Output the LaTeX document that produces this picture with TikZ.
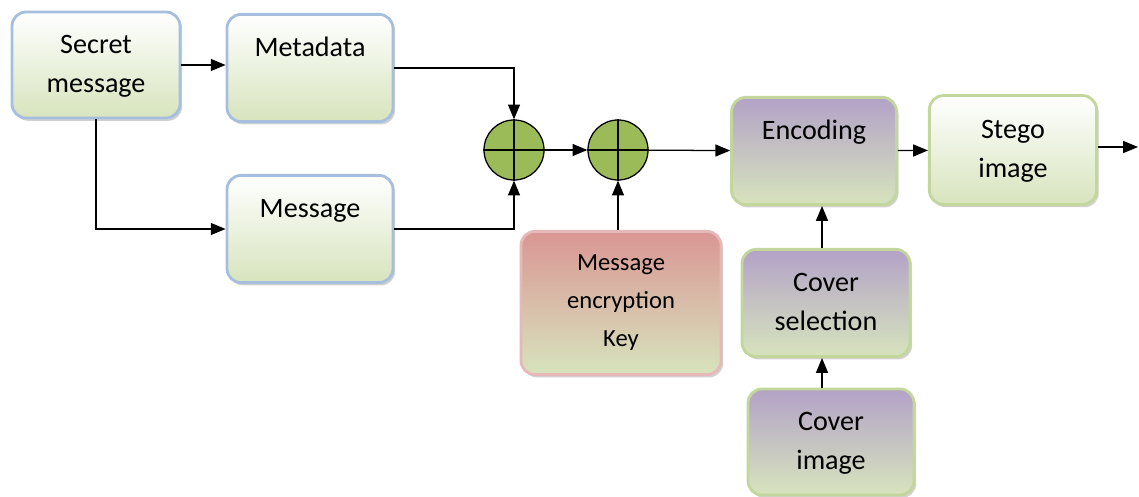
\documentclass[tikz,border=0pt]{standalone}
\usepackage{fontspec}
\setmainfont{Carlito}
\usetikzlibrary{arrows.meta,shadows}

\begin{document}
\begin{tikzpicture}[x=0.025cm, y=-0.025cm, >={Triangle[length=10.5pt,width=8.5pt]},
  line width=0.9pt,
  every node/.style={font=\fontsize{20}{28}\selectfont, align=center}]
  \definecolor{lgreen}{HTML}{D7E4BD}
  \definecolor{lblue}{HTML}{A7BFDE}
  \definecolor{gborder}{HTML}{C3D69B}
  \definecolor{lpurple}{HTML}{B3A2C7}
  \definecolor{lred}{HTML}{D99694}
  \definecolor{pborder}{HTML}{E6B9B8}
  \definecolor{xorgreen}{HTML}{9BBB59}
  \tikzset{
    box/.style={rounded corners=10pt, line width=2pt, minimum width=4.15cm,
      minimum height=2.68cm, bottom color=lgreen,
      drop shadow={shadow xshift=1.5pt, shadow yshift=-2pt, opacity=0.3, fill=black!60}},
    inbox/.style={box, draw=lblue, top color=white},
    outbox/.style={box, draw=gborder, top color=white},
    stepbox/.style={box, draw=gborder, top color=lpurple},
    xorsum/.style={circle, draw, fill=xorgreen, minimum size=1.5cm, inner sep=0pt}
  }
  \useasboundingbox (0,0) rectangle (1139,497);

  % Message side
  \node[inbox, minimum width=4.2cm, minimum height=2.65cm] (secret) at (96,65)
    {\strut Secret\\\strut message};
  \node[inbox] (meta) at (310,68) {\strut Metadata\\\strut};
  \node[inbox] (msg) at (310,229) {\strut Message\\\strut};

  % Combining
  \foreach \n/\x in {sum1/514, sum2/618} {
    \node[xorsum] (\n) at (\x,150) {};
    \draw (\n.north) -- (\n.south) (\n.west) -- (\n.east);
  }
  \node[box, draw=pborder, top color=lred, minimum width=5cm, minimum height=3.58cm,
    font=\fontsize{17.5}{27}\selectfont] (key) at (621,303) {Message\\encryption\\Key};

  % Cover side
  \node[stepbox, minimum width=4.12cm] (enc) at (814,151) {\strut Encoding\\\strut};
  \node[outbox, minimum width=4.18cm, minimum height=2.72cm] (stego) at (1013,150)
    {\strut Stego\\\strut image};
  \node[stepbox, minimum width=4.2cm] (coversel) at (826,303) {\strut Cover\\\strut selection};
  \node[stepbox, minimum height=2.65cm] (coverimg) at (831,442) {\strut Cover\\\strut image};
  \coordinate (out) at (1138,147);

  % Connectors
  \draw[->] (secret.east) -- (meta.west |- secret.east);
  \draw[->] (secret.south) |- (msg.west);
  \draw[->] (meta.east) -| (sum1.north);
  \draw[->] (msg.east) -| (sum1.south);
  \draw[->] (sum1) -- (sum2);
  \draw[->] (sum2) -- (enc);
  \draw[->] (sum2.south |- key.north) -- (sum2.south);
  \draw[->] (enc) -- (stego);
  \draw[->] (stego.east |- out) -- (out);
  \draw[->] (coversel.north -| 822,0) -- (enc.south -| 822,0);
  \draw[->] (coverimg.north -| 822,0) -- (coversel.south -| 822,0);
\end{tikzpicture}
\end{document}
